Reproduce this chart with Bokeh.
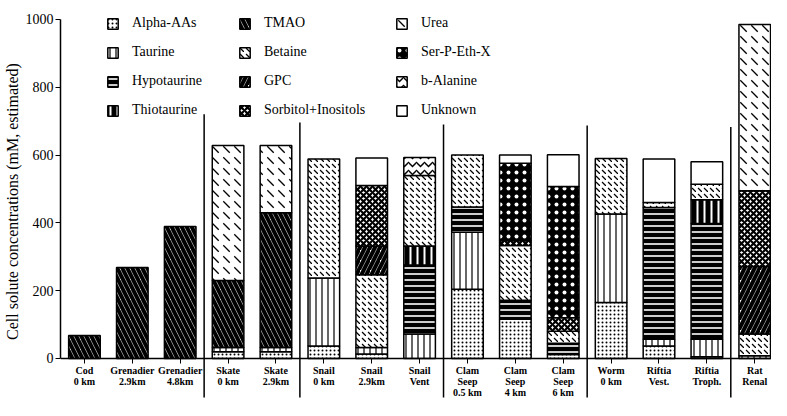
import numpy as np
from bokeh.plotting import figure
from bokeh.models import Range1d, FixedTicker, Legend, LegendItem, ColumnDataSource
from bokeh.embed import file_html
from bokeh.resources import INLINE

# ---------------- data ----------------
samples = ["Cod\n0 km", "Grenadier\n2.9km", "Grenadier\n4.8km", "Skate\n0 km", "Skate\n2.9km",
           "Snail\n0 km", "Snail\n2.9km", "Snail\nVent", "Clam\nSeep\n0.5 km", "Clam\nSeep\n4 km",
           "Clam\nSeep\n6 km", "Worm\n0 km", "Riftia\nVest.", "Riftia\nTroph.", "Rat\nRenal"]

compounds = ["Alpha-AAs", "Taurine", "Hypotaurine", "Thiotaurine", "TMAO", "Betaine", "GPC",
             "Sorbitol+Inositols", "Urea", "Ser-P-Eth-X", "b-Alanine", "Unknown"]

alpha_aas   = [0, 0, 0, 20, 20, 37, 13, 0, 204, 116, 12, 165, 37, 5, 0]
taurine     = [0, 0, 0, 12, 12, 200, 19, 72, 168, 0, 0, 261, 20, 52, 8]
hypotaurine = [0, 0, 0, 0, 0, 0, 0, 204, 75, 56, 33, 0, 388, 341, 0]
thiotaurine = [0, 0, 0, 0, 0, 0, 0, 56, 0, 0, 0, 0, 0, 70, 0]
tmao        = [68, 268, 389, 198, 398, 0, 0, 0, 0, 0, 0, 0, 0, 0, 0]
betaine     = [0, 0, 0, 0, 0, 351, 215, 208, 153, 161, 35, 164, 15, 46, 64]
gpc         = [0, 0, 0, 0, 0, 0, 85, 0, 0, 0, 0, 0, 0, 0, 199]
sorbitol    = [0, 0, 0, 0, 0, 0, 178, 0, 0, 14, 40, 0, 0, 0, 224]
urea        = [0, 0, 0, 398, 198, 0, 0, 0, 0, 0, 0, 0, 0, 0, 490]
serpeth     = [0, 0, 0, 0, 0, 0, 0, 0, 0, 229, 387, 0, 0, 0, 0]
balanine    = [0, 0, 0, 0, 0, 0, 0, 53, 0, 0, 0, 0, 0, 0, 0]
unknown     = [0, 0, 0, 0, 0, 0, 81, 0, 0, 24, 94, 0, 128, 66, 0]

series = [alpha_aas, taurine, hypotaurine, thiotaurine, tmao, betaine, gpc,
          sorbitol, urea, serpeth, balanine, unknown]

y_ticks = [0, 200, 400, 600, 800, 1000]

# group separators (between sample groups)
group_sizes = [3, 2, 3, 3, 3, 1]
sep_tops = [720, 696, 690, 687, 683]

# ---------------- styles ----------------
styles = {
    "Alpha-AAs":          dict(fill_color="white", hatch_pattern=".", hatch_color="black", hatch_scale=4, hatch_weight=1.0),
    "Taurine":            dict(fill_color="white", hatch_pattern="|", hatch_color="black", hatch_scale=6, hatch_weight=1.2),
    "Hypotaurine":        dict(fill_color="black", hatch_pattern="-", hatch_color="white", hatch_scale=6, hatch_weight=1.6),
    "Thiotaurine":        dict(fill_color="black", hatch_pattern="|", hatch_color="white", hatch_scale=7, hatch_weight=2.0),
    "TMAO":               dict(fill_color="white", hatch_pattern="\\", hatch_color="black", hatch_scale=10, hatch_weight=4.0),
    "Betaine":            dict(fill_color="white", hatch_pattern="`", hatch_color="black", hatch_scale=6, hatch_weight=1.3),
    "GPC":                dict(fill_color="white", hatch_pattern="/", hatch_color="black", hatch_scale=10, hatch_weight=4.0),
    "Sorbitol+Inositols": dict(fill_color="white", hatch_pattern="x", hatch_color="black", hatch_scale=6, hatch_weight=2.2),
    "Urea":               dict(fill_color="white", hatch_pattern="`", hatch_color="black", hatch_scale=11, hatch_weight=1.3),
    "Ser-P-Eth-X":        dict(fill_color="black", hatch_pattern=".", hatch_color="white", hatch_scale=8, hatch_weight=3.0),
    "b-Alanine":          dict(fill_color="white", hatch_pattern="v", hatch_color="black", hatch_scale=8, hatch_weight=1.5),
    "Unknown":            dict(fill_color="white"),
}

SERIF = "Liberation Serif"

p = figure(width=771, height=400, output_backend="svg", toolbar_location=None,
           x_range=Range1d(-0.5, 14.35), y_range=Range1d(-124, 1050),
           min_border_left=50, min_border_right=0, min_border_top=2, min_border_bottom=0)
p.outline_line_color = None
p.xgrid.visible = False
p.ygrid.visible = False
p.background_fill_color = "white"
p.border_fill_color = "white"

xs = np.arange(len(samples))
cum = np.zeros(len(samples))
renderers = {}
for name, vals in zip(compounds, series):
    vals = np.array(vals, dtype=float)
    mask = vals > 0
    src = ColumnDataSource(dict(x=xs[mask], bottom=cum[mask], top=(cum + vals)[mask]))
    r = p.vbar(x="x", bottom="bottom", top="top", width=0.66, source=src,
               line_color="black", line_width=1.5, **styles[name])
    renderers[name] = r
    cum = cum + vals

# separators
bounds = np.cumsum(group_sizes)[:-1] - 0.5
p.segment(x0=bounds, y0=[-115] * len(bounds), x1=bounds, y1=sep_tops,
          line_color="black", line_width=1.5)

# axes
p.yaxis.bounds = (0, 1000)
p.yaxis.ticker = FixedTicker(ticks=y_ticks)
p.yaxis.minor_tick_line_color = None
p.yaxis.major_tick_in = 0
p.yaxis.major_tick_out = 5
p.yaxis.axis_line_width = 1.5
p.yaxis.major_tick_line_width = 1.2
p.yaxis.major_label_standoff = 2
p.yaxis.major_label_text_font = SERIF
p.yaxis.major_label_text_font_size = "14px"
p.yaxis.major_label_text_color = "black"
p.yaxis.axis_label = "Cell solute concentrations (mM, estimated)"
p.yaxis.axis_label_text_font = SERIF
p.yaxis.axis_label_text_font_size = "16px"
p.yaxis.axis_label_text_font_style = "normal"
p.yaxis.axis_label_text_color = "black"
p.yaxis.axis_label_standoff = 2

p.xaxis.fixed_location = 0
p.xaxis.ticker = FixedTicker(ticks=list(range(len(samples))))
p.xaxis.major_label_overrides = {i: s for i, s in enumerate(samples)}
p.xaxis.minor_tick_line_color = None
p.xaxis.major_tick_in = 0
p.xaxis.major_tick_out = 5
p.xaxis.axis_line_width = 1.5
p.xaxis.major_label_standoff = 2
p.xaxis.major_label_text_font = SERIF
p.xaxis.major_label_text_font_size = "10px"
p.xaxis.major_label_text_font_style = "bold"
p.xaxis.major_label_text_color = "black"
p.xaxis.major_label_text_line_height = 1.0

# legends: three columns of four
col_x = [46, 178, 335]
for c in range(3):
    items = [LegendItem(label=n, renderers=[renderers[n]]) for n in compounds[c * 4:(c + 1) * 4]]
    lg = Legend(items=items, location=(col_x[c], 282), orientation="vertical",
                glyph_width=13, glyph_height=13, label_height=13, spacing=13,
                label_standoff=13, padding=0, margin=0,
                border_line_color=None, background_fill_alpha=0,
                label_text_font=SERIF, label_text_font_size="14px", label_text_color="black")
    p.add_layout(lg)

open("out.html", "w").write(file_html(p, INLINE))
